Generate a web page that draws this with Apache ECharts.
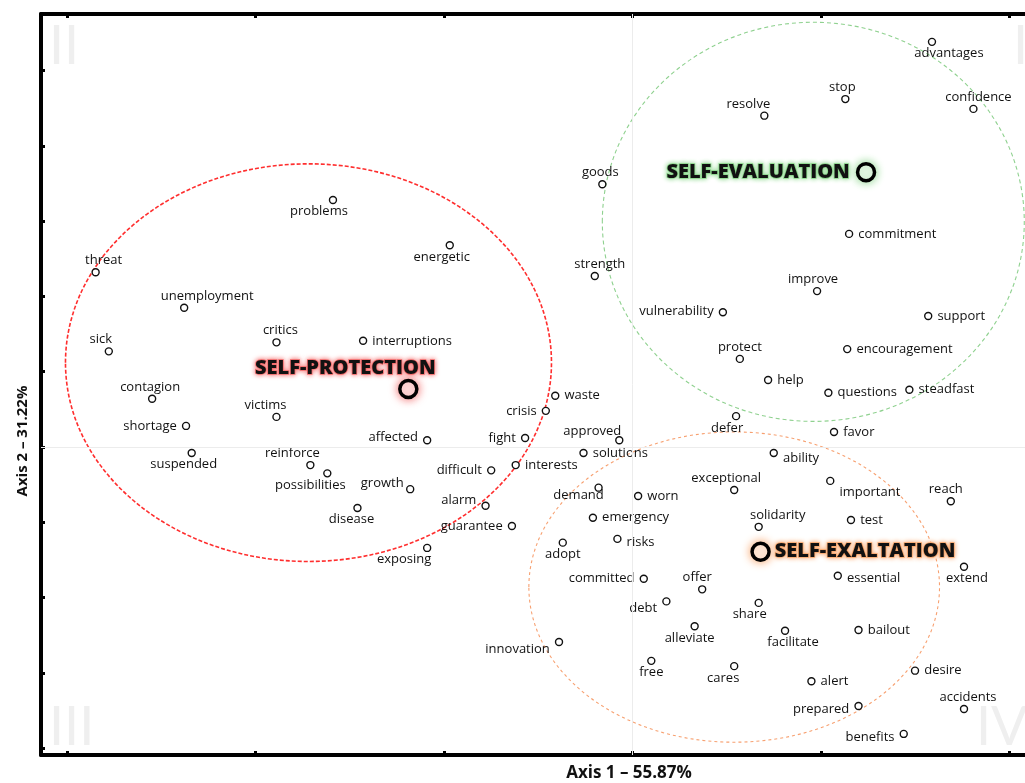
<!DOCTYPE html>
<html>
<head>
<meta charset="utf-8">
<script src="https://cdn.jsdelivr.net/npm/echarts@6/dist/echarts.min.js"></script>
<style>
  html, body { margin: 0; padding: 0; background: #fff; }
  #chart { width: 1025px; height: 783px; }
</style>
</head>
<body>
<div id="chart"></div>
<script>
// Word coordinates on the first two correspondence-analysis axes
const wordNames = [
  'problems', 'energetic', 'threat', 'unemployment', 'sick', 'critics', 'interruptions',
  'contagion', 'victims', 'shortage', 'affected', 'suspended', 'reinforce', 'possibilities',
  'growth', 'disease', 'difficult', 'fight', 'alarm', 'guarantee', 'exposing', 'crisis',
  'waste', 'interests', 'approved', 'solutions', 'goods', 'strength', 'vulnerability',
  'protect', 'defer', 'favor', 'ability', 'exceptional', 'important', 'demand', 'worn',
  'emergency', 'solidarity', 'test', 'risks', 'adopt', 'committed', 'offer', 'essential',
  'debt', 'share', 'alleviate', 'facilitate', 'bailout', 'innovation', 'free', 'cares',
  'alert', 'desire', 'accidents', 'prepared', 'benefits', 'advantages', 'stop', 'resolve',
  'confidence', 'commitment', 'improve', 'support', 'encouragement', 'help', 'questions',
  'steadfast', 'reach', 'extend'
];
const wordAxis1 = [
  -1.59, -0.97, -2.85, -2.38, -2.78, -1.89, -1.43,
  -2.55, -1.89, -2.37, -1.09, -2.34, -1.71, -1.62,
  -1.18, -1.46, -0.75, -0.57, -0.78, -0.64, -1.09, -0.46,
  -0.41, -0.62, -0.07, -0.26, -0.16, -0.20, 0.48,
  0.57, 0.55, 1.07, 0.75, 0.54, 1.05, -0.18, 0.03,
  -0.21, 0.67, 1.16, -0.08, -0.37, 0.06, 0.37, 1.09,
  0.18, 0.67, 0.33, 0.81, 1.20, -0.39, 0.10, 0.54,
  0.95, 1.50, 1.76, 1.20, 1.44, 1.59, 1.13, 0.70,
  1.81, 1.15, 0.98, 1.57, 1.14, 0.72, 1.04,
  1.47, 1.69, 1.76
];
const wordAxis2 = [
  3.28, 2.68, 2.32, 1.85, 1.27, 1.39, 1.41,
  0.64, 0.40, 0.28, 0.09, -0.08, -0.24, -0.35,
  -0.56, -0.81, -0.31, 0.12, -0.78, -1.05, -1.34, 0.48,
  0.68, -0.24, 0.09, -0.08, 3.49, 2.27, 1.79,
  1.17, 0.41, 0.20, -0.08, -0.57, -0.45, -0.54, -0.65,
  -0.94, -1.06, -0.97, -1.22, -1.27, -1.75, -1.89, -1.71,
  -2.05, -2.07, -2.38, -2.44, -2.43, -2.59, -2.84, -2.91,
  -3.11, -2.97, -3.48, -3.44, -3.81, 5.38, 4.62, 4.40,
  4.49, 2.83, 2.07, 1.74, 1.30, 0.89, 0.72,
  0.76, -0.72, -1.59
];

// Cluster centroids
const groupNames = ['SELF-PROTECTION', 'SELF-EVALUATION', 'SELF-EXALTATION'];
const groupAxis1 = [-1.19, 1.24, 0.68];
const groupAxis2 = [0.77, 3.65, -1.39];

// Cluster ellipses: centre and semi-axes in axis units
const ellipseAxis1 = [-1.72, 0.96, 0.54];
const ellipseAxis2 = [1.12, 2.99, -1.86];
const ellipseRadius1 = [1.29, 1.12, 1.09];
const ellipseRadius2 = [2.64, 2.65, 2.06];

// Axis ticks and titles
const axis1Ticks = [-3, -2, -1, 0, 1, 2];
const axis2Ticks = [-4, -3, -2, -1, 0, 1, 2, 3, 4, 5];
const axis1Title = 'Axis 1 – 55.87%';
const axis2Title = 'Axis 2 – 31.22%';
const quadrantNames = ['II', 'I', 'III', 'IV'];

// ---- styling ----
const X_MIN = -3.14, X_MAX = 2.19, Y_MIN = -4.09, Y_MAX = 5.75;
const groupColors = ['#f26a6a', '#8ad68a', '#f7a66c'];
const ellipseColors = ['#ff2e2e', '#8fd18f', '#f7a070'];
const ellipseDash = [[4, 2], [4, 3], [3, 3]];
const ellipseWidth = [1.6, 1.1, 1.1];

// label placement: [position, dx, dy]
const labelPlacement = {
  problems: ['bottom', -14, 0], energetic: ['bottom', -8, 0], suspended: ['bottom', -8, 0],
  possibilities: ['bottom', -17, 0], disease: ['bottom', -6, 0], exposing: ['bottom', -23, 0],
  defer: ['bottom', -9, 0], adopt: ['bottom', 0, 0], share: ['bottom', -9, 0],
  alleviate: ['bottom', -5, 0], facilitate: ['bottom', 8, 0], free: ['bottom', 0, 0],
  cares: ['bottom', -11, 0], advantages: ['bottom', 17, 0], extend: ['bottom', 3, 0],
  demand: ['bottom', -20, -4],
  threat: ['top', 8, 0], unemployment: ['top', 23, 0], sick: ['top', -8, 0],
  critics: ['top', 4, 0], contagion: ['top', -2, 0], victims: ['top', -11, 0],
  reinforce: ['top', -18, 0], approved: ['top', -27, 3], goods: ['top', -2, 0],
  strength: ['top', 5, 0], protect: ['top', 0, 0], exceptional: ['top', -8, 0],
  solidarity: ['top', 19, 0], offer: ['top', -5, 0], accidents: ['top', 4, 0],
  stop: ['top', -3, 0], resolve: ['top', -16, 0], confidence: ['top', 5, 0],
  improve: ['top', -4, 0], reach: ['top', -5, 0], growth: ['top', -28, 6],
  shortage: ['left', 0, 0], affected: ['left', 0, -3], difficult: ['left', 0, 0],
  fight: ['left', 0, 0], alarm: ['left', 0, -5], guarantee: ['left', 0, 0],
  crisis: ['left', 0, 0], vulnerability: ['left', 0, -1], committed: ['left', 0, 0],
  debt: ['left', 0, 7], innovation: ['left', 0, 7], prepared: ['left', 0, 3],
  benefits: ['left', 0, 3],
  ability: ['right', 0, 5], important: ['right', 0, 11], risks: ['right', 0, 3],
  essential: ['right', 0, 3]
};

const FONT = '"Open Sans", Lato, sans-serif';

const wordData = wordNames.map((name, i) => {
  const p = labelPlacement[name] || ['right', 0, 0];
  const vertical = p[0] === 'top' || p[0] === 'bottom';
  return {
    name: name,
    value: [wordAxis1[i], wordAxis2[i]],
    label: { position: p[0], offset: [p[1], p[2]], distance: vertical ? 1 : 5 }
  };
});

const groupLabel = [
  { position: 'top', offset: [-63, 0], distance: 0 },
  { position: 'left', offset: [0, 0], distance: 6 },
  { position: 'right', offset: [0, 0], distance: 4 }
];
const groupData = groupNames.map((name, i) => ({
  name: name,
  value: [groupAxis1[i], groupAxis2[i]],
  itemStyle: { shadowColor: groupColors[i] },
  label: Object.assign({
    textBorderColor: groupColors[i],
    textShadowColor: groupColors[i]
  }, groupLabel[i])
}));

const ellipseData = ellipseAxis1.map((c, i) => [c, ellipseAxis2[i], ellipseRadius1[i], ellipseRadius2[i]]);

function valueAxis(position, min, max, ticks, extra) {
  return Object.assign({
    type: 'value',
    position: position,
    min: min,
    max: max,
    axisLine: { show: true, onZero: false, lineStyle: { color: '#000', width: 4 } },
    axisTick: { show: true, inside: true, length: 4, lineStyle: { color: '#000', width: 3 }, customValues: ticks },
    axisLabel: { show: false },
    splitLine: { show: false }
  }, extra || {});
}

const quadrantStyle = { font: '400 54px Lato, sans-serif', fill: '#efefef' };

const option = {
  backgroundColor: '#fff',
  animation: false,
  // the plot frame runs past the right edge of the page, so only three sides show
  grid: { left: 41, top: 14, width: 1004, height: 741, containLabel: false, outerBoundsMode: 'none' },
  xAxis: [
    valueAxis('bottom', X_MIN, X_MAX, axis1Ticks, {
      name: axis1Title, nameLocation: 'middle', nameGap: 10,
      nameTextStyle: { fontFamily: FONT, fontSize: 17, fontWeight: 'bold', color: '#111', padding: [0, 0, 0, 172] }
    }),
    valueAxis('top', X_MIN, X_MAX, axis1Ticks)
  ],
  yAxis: [
    valueAxis('left', Y_MIN, Y_MAX, axis2Ticks, {
      name: axis2Title, nameLocation: 'middle', nameGap: 11,
      nameTextStyle: { fontFamily: FONT, fontSize: 15, fontWeight: 'bold', color: '#111', padding: [0, 113, 0, 0] }
    })
  ],
  graphic: [
    { type: 'text', z: 0, silent: true, style: Object.assign({ text: quadrantNames[0], x: 49, y: 74, verticalAlign: 'bottom' }, quadrantStyle) },
    { type: 'text', z: 0, silent: true, style: Object.assign({ text: quadrantNames[1], x: 1013, y: 74, verticalAlign: 'bottom' }, quadrantStyle) },
    { type: 'text', z: 0, silent: true, style: Object.assign({ text: quadrantNames[2], x: 49, y: 755, verticalAlign: 'bottom' }, quadrantStyle) },
    { type: 'text', z: 0, silent: true, style: Object.assign({ text: quadrantNames[3], x: 976, y: 755, verticalAlign: 'bottom' }, quadrantStyle) }
  ],
  series: [
    {
      type: 'custom',
      name: 'clusters',
      silent: true,
      z: 1,
      clip: false,
      data: ellipseData,
      encode: { x: 0, y: 1 },
      renderItem: function (params, api) {
        const c = api.coord([api.value(0), api.value(1)]);
        const s = api.size([api.value(2), api.value(3)]);
        const i = params.dataIndex;
        return {
          type: 'ellipse',
          shape: { cx: c[0], cy: c[1], rx: s[0], ry: s[1] },
          style: { fill: 'none', stroke: ellipseColors[i], lineWidth: ellipseWidth[i], lineDash: ellipseDash[i] }
        };
      }
    },
    {
      type: 'scatter',
      name: 'words',
      z: 3,
      symbol: 'circle',
      symbolSize: 7,
      itemStyle: { color: '#fff', borderColor: '#111', borderWidth: 1.4, opacity: 1 },
      label: { show: true, formatter: '{b}', color: '#111', fontSize: 13, fontFamily: FONT },
      emphasis: { disabled: true },
      data: wordData,
      markLine: {
        silent: true,
        symbol: 'none',
        label: { show: false },
        lineStyle: { color: '#ececec', type: 'solid', width: 1 },
        data: [{ xAxis: 0 }, { yAxis: 0 }]
      }
    },
    {
      type: 'scatter',
      name: 'centroids',
      z: 4,
      symbol: 'circle',
      symbolSize: 17,
      itemStyle: { color: '#fff', borderColor: '#000', borderWidth: 3.5, shadowBlur: 10, opacity: 1 },
      label: {
        show: true, formatter: '{b}', color: '#111', fontSize: 20, fontWeight: 800, fontFamily: FONT,
        textBorderWidth: 1.5, textShadowBlur: 5
      },
      emphasis: { disabled: true },
      data: groupData
    }
  ]
};

const chart = echarts.init(document.getElementById('chart'), null, { renderer: 'canvas' });
chart.setOption(option);
</script>
</body>
</html>
